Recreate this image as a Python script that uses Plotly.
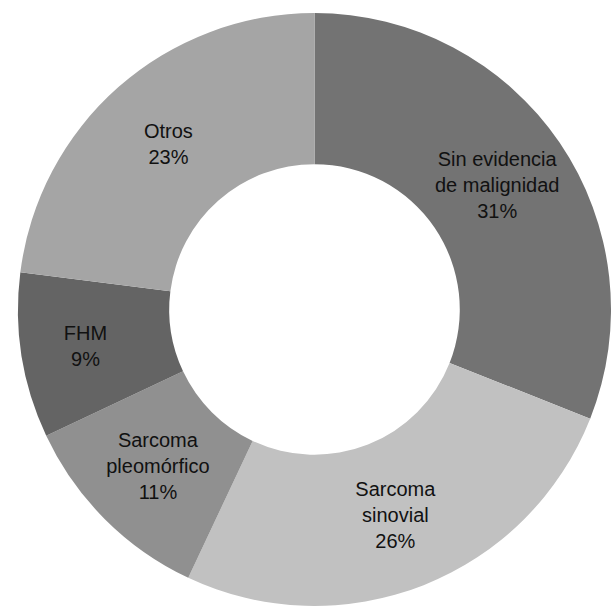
import plotly.graph_objects as go

labels = ["Sin evidencia<br>de malignidad", "Sarcoma<br>sinovial", "Sarcoma<br>pleomórfico", "FHM", "Otros"]
values = [31, 26, 11, 9, 23]
colors = ["#737373", "#c1c1c1", "#909090", "#646464", "#a5a5a5"]

W, H = 611, 607
fig = go.Figure(go.Pie(
    labels=labels,
    values=values,
    sort=False,
    direction="clockwise",
    rotation=0,
    hole=0.49,
    marker=dict(colors=colors, line=dict(width=0)),
    texttemplate="%{label}<br>%{value}%",
    textposition="inside",
    insidetextorientation="horizontal",
    textfont=dict(family="Liberation Sans, Arial, sans-serif", size=20, color="#111111"),
    domain=dict(x=[18 / W, 1], y=[0, 595 / H]),
    showlegend=False,
    hoverinfo="label+percent",
))
fig.update_layout(
    width=W, height=H,
    margin=dict(l=0, r=0, t=0, b=0),
    paper_bgcolor="white",
    plot_bgcolor="white",
    uniformtext=dict(minsize=20, mode="show"),
)
fig.write_html("out.html")
